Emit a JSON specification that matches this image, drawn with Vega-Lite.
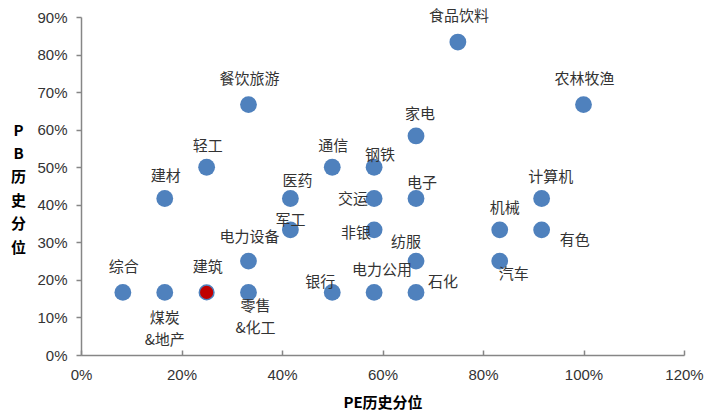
{
  "$schema": "https://vega.github.io/schema/vega-lite/v6.json",
  "width": 603,
  "height": 338,
  "autosize": "none",
  "padding": {"left": 81, "top": 17, "right": 20, "bottom": 57},
  "background": "#ffffff",
  "config": {
    "view": {"stroke": null},
    "text": {"font": "Noto Sans CJK SC", "fontSize": 15, "color": "#333333", "align": "center", "baseline": "middle", "lineBreak": "\n", "lineHeight": 21.5}
  },
  "data": {
    "values": [
      {"name": "综合", "pe": 0.0833, "pb": 0.1667},
      {"name": "煤炭\n&地产", "pe": 0.1667, "pb": 0.1667},
      {"name": "建筑", "pe": 0.25, "pb": 0.1667},
      {"name": "零售\n&化工", "pe": 0.3333, "pb": 0.1667},
      {"name": "电力设备", "pe": 0.3333, "pb": 0.25},
      {"name": "餐饮旅游", "pe": 0.3333, "pb": 0.6667},
      {"name": "建材", "pe": 0.1667, "pb": 0.4167},
      {"name": "轻工", "pe": 0.25, "pb": 0.5},
      {"name": "医药", "pe": 0.4167, "pb": 0.4167},
      {"name": "军工", "pe": 0.4167, "pb": 0.3333},
      {"name": "通信", "pe": 0.5, "pb": 0.5},
      {"name": "银行", "pe": 0.5, "pb": 0.1667},
      {"name": "钢铁", "pe": 0.5833, "pb": 0.5},
      {"name": "交运", "pe": 0.5833, "pb": 0.4167},
      {"name": "非银", "pe": 0.5833, "pb": 0.3333},
      {"name": "电力公用", "pe": 0.5833, "pb": 0.1667},
      {"name": "家电", "pe": 0.6667, "pb": 0.5833},
      {"name": "电子", "pe": 0.6667, "pb": 0.4167},
      {"name": "纺服", "pe": 0.6667, "pb": 0.25},
      {"name": "石化", "pe": 0.6667, "pb": 0.1667},
      {"name": "食品饮料", "pe": 0.75, "pb": 0.8333},
      {"name": "机械", "pe": 0.8333, "pb": 0.3333},
      {"name": "汽车", "pe": 0.8333, "pb": 0.25},
      {"name": "计算机", "pe": 0.9167, "pb": 0.4167},
      {"name": "有色", "pe": 0.9167, "pb": 0.3333},
      {"name": "农林牧渔", "pe": 1.0, "pb": 0.6667}
    ]
  },
  "encoding": {
    "x": {
      "field": "pe", "type": "quantitative",
      "scale": {"domain": [0, 1.2], "nice": false},
      "axis": {
        "values": [0, 0.2, 0.4, 0.6, 0.8, 1.0, 1.2],
        "format": ".0%", "grid": false, "labelFlush": false,
        "domainColor": "#868686", "domainWidth": 1.5, "tickColor": "#868686", "tickWidth": 1.5, "tickSize": -5,
        "labelFont": "Liberation Sans", "labelFontSize": 15, "labelColor": "#333333", "labelPadding": 17,
        "title": "PE历史分位", "titleFont": "Noto Sans CJK SC", "titleFontSize": 15, "titleFontWeight": "bold", "titleColor": "#000000",
        "titleY": 47, "titleBaseline": "middle"
      }
    },
    "y": {
      "field": "pb", "type": "quantitative",
      "scale": {"domain": [0, 0.9], "nice": false},
      "axis": {
        "values": [0, 0.1, 0.2, 0.3, 0.4, 0.5, 0.6, 0.7, 0.8, 0.9],
        "format": ".0%", "grid": false, "labelFlush": false,
        "domainColor": "#868686", "domainWidth": 1.5, "tickColor": "#868686", "tickWidth": 1.5, "tickSize": 5,
        "labelFont": "Liberation Sans", "labelFontSize": 15, "labelColor": "#333333", "labelPadding": 9,
        "title": ["P", "B", "历", "史", "分", "位"], "titleAngle": 0, "titleAlign": "center", "titleBaseline": "middle",
        "titleX": -63, "titleY": 113, "titleLineHeight": 23.4,
        "titleFont": "Noto Sans CJK SC", "titleFontSize": 15, "titleFontWeight": "bold", "titleColor": "#000000"
      }
    }
  },
  "layer": [
    {"transform": [{"filter": "datum.name !== '建筑'"}], "mark": {"type": "circle", "size": 283, "color": "#4F81BD", "opacity": 1}},
    {"transform": [{"filter": "datum.name === '建筑'"}], "mark": {"type": "circle", "size": 215, "fill": "#C00000", "stroke": "#4F81BD", "strokeWidth": 1.5, "opacity": 1}},
    {"transform": [{"filter": {"field": "name", "oneOf": ["综合", "建筑"]}}], "mark": {"type": "text", "dx": 1, "dy": -25}, "encoding": {"text": {"field": "name"}}},
    {"transform": [{"filter": {"field": "name", "oneOf": ["电力设备"]}}], "mark": {"type": "text", "dx": 1, "dy": -24}, "encoding": {"text": {"field": "name"}}},
    {"transform": [{"filter": {"field": "name", "oneOf": ["餐饮旅游", "食品饮料", "农林牧渔"]}}], "mark": {"type": "text", "dx": 1, "dy": -26}, "encoding": {"text": {"field": "name"}}},
    {"transform": [{"filter": {"field": "name", "oneOf": ["建材"]}}], "mark": {"type": "text", "dx": 1, "dy": -23}, "encoding": {"text": {"field": "name"}}},
    {"transform": [{"filter": {"field": "name", "oneOf": ["轻工", "通信"]}}], "mark": {"type": "text", "dx": 1, "dy": -21}, "encoding": {"text": {"field": "name"}}},
    {"transform": [{"filter": {"field": "name", "oneOf": ["医药"]}}], "mark": {"type": "text", "dx": 7, "dy": -18}, "encoding": {"text": {"field": "name"}}},
    {"transform": [{"filter": {"field": "name", "oneOf": ["军工"]}}], "mark": {"type": "text", "dx": 0, "dy": -10}, "encoding": {"text": {"field": "name"}}},
    {"transform": [{"filter": {"field": "name", "oneOf": ["银行"]}}], "mark": {"type": "text", "dx": -12, "dy": -10}, "encoding": {"text": {"field": "name"}}},
    {"transform": [{"filter": {"field": "name", "oneOf": ["交运"]}}], "mark": {"type": "text", "dx": -21, "dy": 0}, "encoding": {"text": {"field": "name"}}},
    {"transform": [{"filter": {"field": "name", "oneOf": ["钢铁"]}}], "mark": {"type": "text", "dx": 6, "dy": -12}, "encoding": {"text": {"field": "name"}}},
    {"transform": [{"filter": {"field": "name", "oneOf": ["家电"]}}], "mark": {"type": "text", "dx": 4, "dy": -22}, "encoding": {"text": {"field": "name"}}},
    {"transform": [{"filter": {"field": "name", "oneOf": ["电子"]}}], "mark": {"type": "text", "dx": 6, "dy": -16}, "encoding": {"text": {"field": "name"}}},
    {"transform": [{"filter": {"field": "name", "oneOf": ["计算机"]}}], "mark": {"type": "text", "dx": 9, "dy": -22}, "encoding": {"text": {"field": "name"}}},
    {"transform": [{"filter": {"field": "name", "oneOf": ["机械"]}}], "mark": {"type": "text", "dx": 5, "dy": -22}, "encoding": {"text": {"field": "name"}}},
    {"transform": [{"filter": {"field": "name", "oneOf": ["非银"]}}], "mark": {"type": "text", "dx": -18, "dy": 3}, "encoding": {"text": {"field": "name"}}},
    {"transform": [{"filter": {"field": "name", "oneOf": ["纺服"]}}], "mark": {"type": "text", "dx": -10, "dy": -19}, "encoding": {"text": {"field": "name"}}},
    {"transform": [{"filter": {"field": "name", "oneOf": ["电力公用"]}}], "mark": {"type": "text", "dx": 8, "dy": -22}, "encoding": {"text": {"field": "name"}}},
    {"transform": [{"filter": {"field": "name", "oneOf": ["石化"]}}], "mark": {"type": "text", "dx": 27, "dy": -10}, "encoding": {"text": {"field": "name"}}},
    {"transform": [{"filter": {"field": "name", "oneOf": ["汽车"]}}], "mark": {"type": "text", "dx": 14, "dy": 13}, "encoding": {"text": {"field": "name"}}},
    {"transform": [{"filter": {"field": "name", "oneOf": ["有色"]}}], "mark": {"type": "text", "dx": 33, "dy": 10}, "encoding": {"text": {"field": "name"}}},
    {"transform": [{"filter": {"field": "name", "oneOf": ["煤炭\n&地产"]}}], "mark": {"type": "text", "dx": 0, "dy": 26}, "encoding": {"text": {"field": "name"}}},
    {"transform": [{"filter": {"field": "name", "oneOf": ["零售\n&化工"]}}], "mark": {"type": "text", "dx": 7, "dy": 14}, "encoding": {"text": {"field": "name"}}}
  ]
}
